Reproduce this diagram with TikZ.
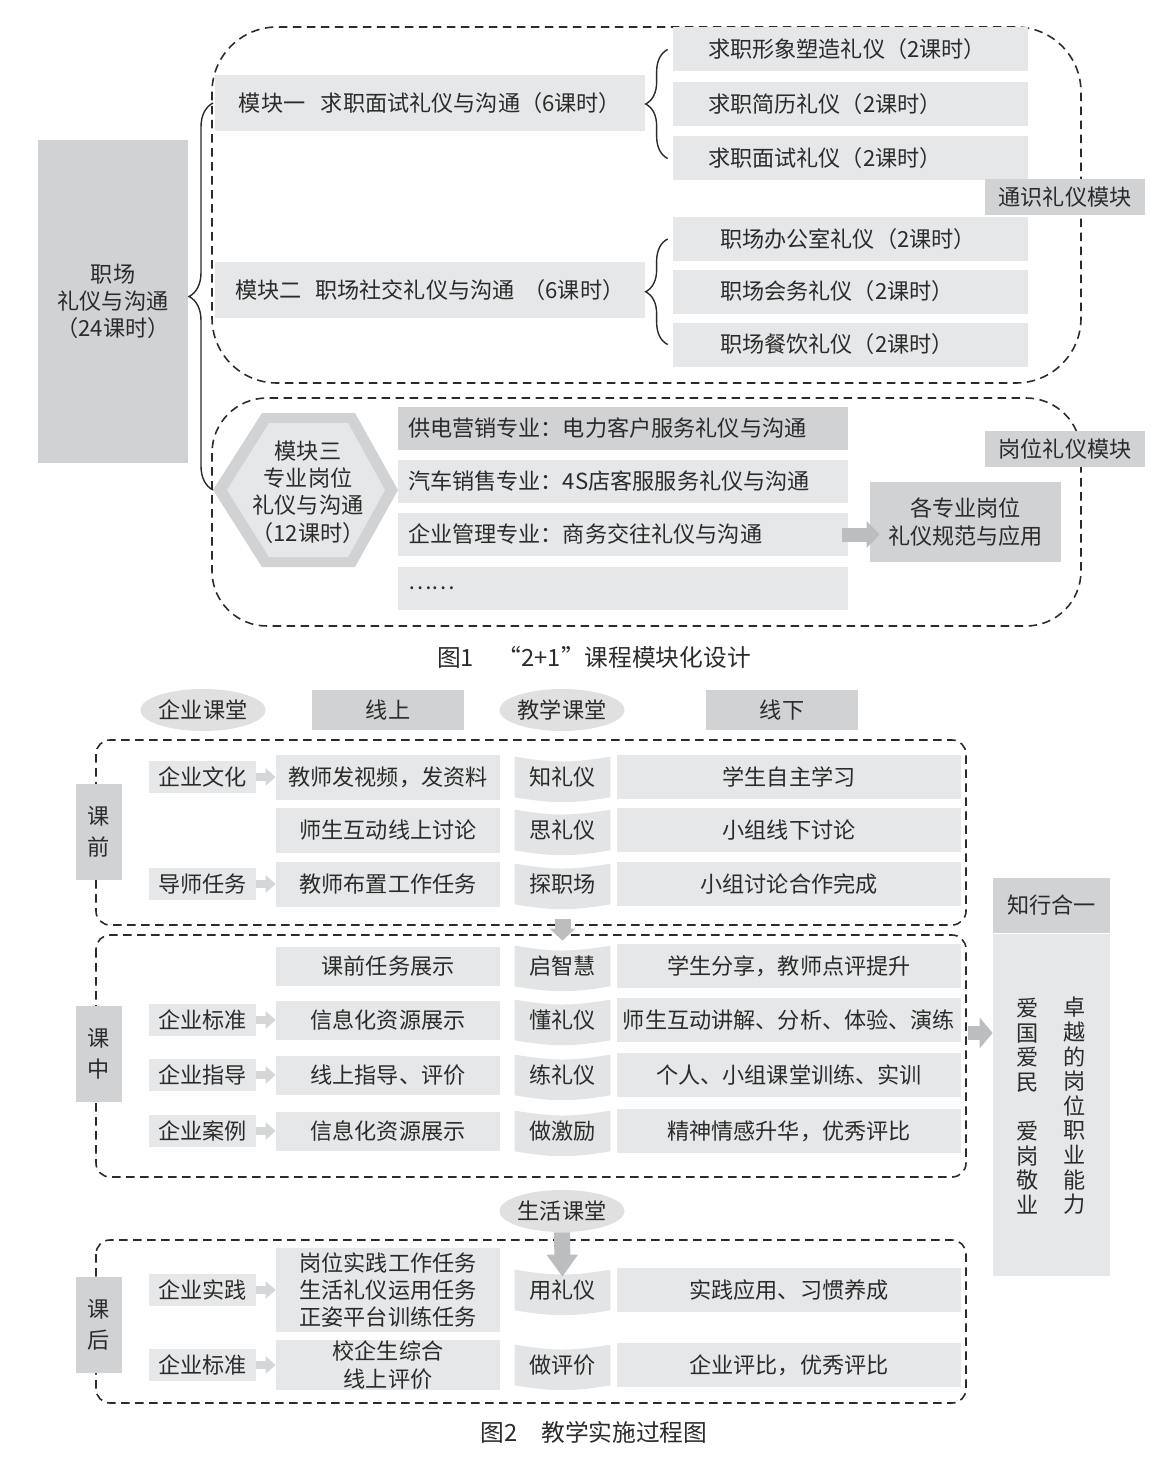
\documentclass[tikz,border=0pt]{standalone}
\usepackage{fontspec}
\setmainfont{Noto Sans CJK SC}
\usetikzlibrary{arrows.meta,shapes.geometric,decorations.pathreplacing,backgrounds}

\begin{document}
\begin{tikzpicture}[
  x=0.2mm, y=-0.2mm,
  every node/.style={inner sep=0pt, text=ink, font=\fontsize{12.6}{15.5}\selectfont},
  boxdark/.style={fill=gdark},
  boxlight/.style={fill=glight},
  oval/.style={ellipse, fill=goval, minimum width=120*\pxl, minimum height=42*\pxl},
  dashbox/.style={draw=ink, line width=0.9pt, dash pattern=on 1.7mm off 1.1mm},
  curly/.style={draw=ink, line width=0.8pt, decorate, decoration={brace, amplitude=#1}},
  curly/.default=4.4mm,
  tiparrow/.style={draw=gtip, line width=1.6mm, -{Triangle[width=3.4mm,length=2mm]}},
  blockarrow/.style={draw=garrow, line width=#1},
]

\definecolor{gdark}{HTML}{D1D2D4}
\definecolor{glight}{HTML}{E6E7E8}
\definecolor{goval}{HTML}{E0E0E1}
\definecolor{gribbon}{HTML}{E3E4E5}
\definecolor{gtip}{HTML}{D5D6D7}
\definecolor{garrow}{HTML}{BCBDBE}
\definecolor{ink}{HTML}{2B2B2B}

\def\pxl{0.2mm}   % one pixel of the layout grid

\useasboundingbox (0,0) rectangle (1173,1483);

%% figure 1
% module frames
\draw[dashbox, rounded corners=13mm] (212,27) rectangle (1081,383);
\draw[dashbox, rounded corners=11mm] (212,398) rectangle (1081,626);

% root
\node[boxdark, minimum width=150*\pxl, minimum height=323*\pxl, align=center]
  (root) at (113,301.5) {职场\\礼仪与沟通\\（24课时）};

% modules one and two
\node[boxlight, minimum width=430*\pxl, minimum height=56*\pxl]
  (mk1) at (430,103) {模块一\hspace{0.7em}求职面试礼仪与沟通（6课时）};
\node[boxlight, minimum width=430*\pxl, minimum height=56*\pxl]
  (mk2) at (430,290) {模块二\hspace{0.6em}职场社交礼仪与沟通\hspace{0.4em}（6课时）};

\foreach \txt/\y/\pad/\tw [count=\i] in {
  {求职形象塑造礼仪（2课时）}/49.5/7/57,
  {求职简历礼仪（2课时）}/104/7/57,
  {求职面试礼仪（2课时）}/158.5/7/57,
  {职场办公室礼仪（2课时）}/239/9.4/52.2,
  {职场会务礼仪（2课时）}/291.5/9.4/52.2,
  {职场餐饮礼仪（2课时）}/344.5/9.4/52.2%
}
  \node[boxlight, minimum height=44*\pxl, inner xsep=\pad mm, text width=\tw mm, align=left]
    (ls\i) at (850.5,\y) {\txt};

\draw[curly] ([xshift=-5*\pxl]ls3.west) -- ([xshift=-5*\pxl]ls1.west);
\draw[curly] ([xshift=-5*\pxl]ls6.west) -- ([xshift=-5*\pxl]ls4.west);

% module three
\coordinate (hexL) at (213,490);
\fill[gdark] (hexL) -- (262,413) -- (355,413) -- (398,490) -- (355,567) -- (262,567) -- cycle;
\fill[glight] (227,490) -- (269,423) -- (348,423) -- (385,490) -- (348,557) -- (269,557) -- cycle;
\node[align=center] (mk3) at (308,492) {模块三\\专业岗位\\礼仪与沟通\\（12课时）};

\draw[curly=4.8mm] (hexL) -- (mk1.west -| hexL);

\foreach \txt/\y/\fillc [count=\i] in {
  {供电营销专业：电力客户服务礼仪与沟通}/428.5/gdark,
  {汽车销售专业：4S店客服服务礼仪与沟通}/481/glight,
  {企业管理专业：商务交往礼仪与沟通}/534.5/glight,
  {……}/588.5/glight%
}
  \node[fill=\fillc, minimum height=43*\pxl, inner xsep=2mm, text width=86mm, align=left]
    (mj\i) at (623,\y) {\txt};

\node[boxdark, minimum width=191*\pxl, minimum height=80*\pxl, align=center]
  (norm) at (965.5,522) {各专业岗位\\礼仪规范与应用};
\draw[blockarrow=14*\pxl, -{Triangle[width=5.2mm,length=2.6mm]},
  shorten <=-1.2mm, shorten >=-2mm] (mj3.east) -- (mj3.east -| norm.west);

% module tags
\node[boxdark, minimum width=160*\pxl, minimum height=36*\pxl] (common) at (1065,197.5) {通识礼仪模块};
\node[boxdark, minimum width=160*\pxl, minimum height=36*\pxl] (post) at (1065,449) {岗位礼仪模块};

\node[font=\fontsize{13.5}{16}\selectfont] (cap1) at (594,657) {图1\quad “2+1”课程模块化设计};

%% figure 2
\node[oval] (corp) at (203,710) {企业课堂};
\node[boxdark, minimum width=152*\pxl, minimum height=40*\pxl] (online) at (388,710) {线上};
\node[oval] (school) at (562,710) {教学课堂};
\node[boxdark, minimum width=152*\pxl, minimum height=40*\pxl] (offline) at (782,710) {线下};

% stage frames
\draw[dashbox, rounded corners=2.8mm] (96,740) rectangle (966,925);
\draw[dashbox, rounded corners=2.8mm] (96,935) rectangle (966,1177);
\draw[dashbox, rounded corners=2.8mm] (96,1240) rectangle (966,1403);

\foreach \txt/\y [count=\i] in {{课\\前}/832, {课\\中}/1054, {课\\后}/1324.5}
  \node[boxdark, minimum width=46*\pxl, minimum height=96*\pxl, align=center,
    font=\fontsize{12.6}{17.6}\selectfont] (stage\i) at (99,\y) {\txt};

\foreach \tg/\mtxt/\rib/\res/\y/\bh/\state [count=\i] in {
  企业文化/{教师发视频，发资料}/知礼仪/学生自主学习/777/45/1,
  -/师生互动线上讨论/思礼仪/小组线下讨论/830/45/0,
  导师任务/教师布置工作任务/探职场/小组讨论合作完成/884/45/1,
  -/课前任务展示/启智慧/{学生分享，教师点评提升}/966/39/0,
  企业标准/信息化资源展示/懂礼仪/{师生互动讲解、分析、体验、演练}/1020/39/1,
  企业指导/{线上指导、评价}/练礼仪/{个人、小组课堂训练、实训}/1075/39/1,
  企业案例/信息化资源展示/做激励/{精神情感升华，优秀评比}/1131/39/1,
  企业实践/{岗位实践工作任务\\生活礼仪运用任务\\正姿平台训练任务}/用礼仪/{实践应用、习惯养成}/1290/84/1,
  企业标准/{校企生综合\\线上评价}/做评价/{企业评比，优秀评比}/1365/50/1%
}{
  \node[boxlight, minimum width=224*\pxl, minimum height=\bh*\pxl, align=center] (m\i) at (388,\y) {\mtxt};
  \node[minimum width=95*\pxl, minimum height=40*\pxl] (s\i) at (562.5,\y) {\rib};
  \node[boxlight, minimum width=344*\pxl, minimum height=44*\pxl] (r\i) at (789,\y) {\res};
  \ifnum\state=1
    \node[boxlight, minimum width=107*\pxl, minimum height=32*\pxl] (t\i) at (202.5,\y) {\tg};
    \draw[tiparrow] (t\i) -- (m\i);
  \fi
}

% ribbon backs
\begin{scope}[on background layer]
  \foreach \i in {1,...,9}
    \fill[gribbon] (s\i.north west)
      .. controls ([xshift=-1.5mm,yshift=-1.3mm]s\i.north) and ([xshift=1.5mm,yshift=-1.3mm]s\i.north) .. (s\i.north east)
      -- (s\i.south east)
      .. controls ([xshift=1.5mm,yshift=-1.3mm]s\i.south) and ([xshift=-1.5mm,yshift=-1.3mm]s\i.south) .. (s\i.south west)
      -- cycle;
\end{scope}

\draw[blockarrow=16*\pxl, -{Triangle[width=5mm,length=2.4mm]},
  shorten <=3mm, shorten >=1mm] (s3) -- (s4);

\node[oval] (life) at (562,1211) {生活课堂};
\draw[blockarrow=16*\pxl, -{Triangle[width=6mm,length=4.4mm]}, shorten >=-1.4mm] (life) -- (s8);

% result column
\node[boxdark, minimum width=117*\pxl, minimum height=55*\pxl] (unity) at (1051.5,905.5) {知行合一};
\node[boxlight, minimum width=117*\pxl, minimum height=342*\pxl, anchor=north] (unitybody) at (unity.south) {};
\node[align=center, font=\fontsize{12.6}{14}\selectfont] (love) at (1028,1106)
  {爱\\国\\爱\\民\\~\\爱\\岗\\敬\\业};
\node[align=center, font=\fontsize{12.6}{14}\selectfont] (skill) at (1075,1106)
  {卓\\越\\的\\岗\\位\\职\\业\\能\\力};

\coordinate (midout) at (968,1033);
\draw[blockarrow=14*\pxl, -{Triangle[width=6mm,length=2.6mm]}] (midout) -- (midout -| unitybody.west);

\node[font=\fontsize{13.5}{16}\selectfont] (cap2) at (594,1432) {图2\quad 教学实施过程图};

\end{tikzpicture}
\end{document}
